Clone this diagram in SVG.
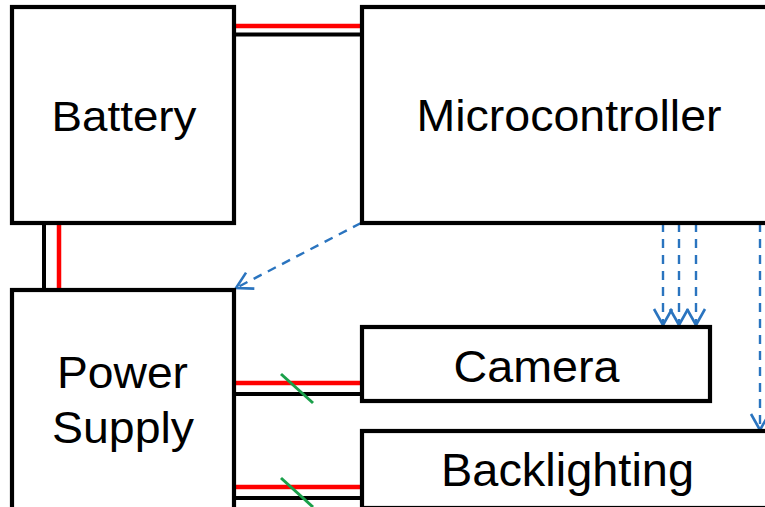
<svg xmlns="http://www.w3.org/2000/svg" width="765" height="507" viewBox="0 0 765 507">
<style>
.box{fill:#fff;stroke:#000;stroke-width:4.2}
.lbl{font-family:"Liberation Sans",Arial,sans-serif;fill:#000;text-anchor:middle}
.red{stroke:#ff0000;stroke-width:4.5;fill:none}
.blk{stroke:#000;stroke-width:4;fill:none}
.grn{stroke:#1aa04a;stroke-width:3;fill:none}
.sig{stroke:#2a74bf;stroke-width:2.4;fill:none;stroke-dasharray:9 7}
</style>
<defs>
<marker id="arr" markerUnits="userSpaceOnUse" markerWidth="30" markerHeight="30" refX="0" refY="0" viewBox="-20 -15 30 30" orient="auto" overflow="visible">
<path d="M-16,-9 L0,0 L-16,9" fill="none" stroke="#2a74bf" stroke-width="2.6"/>
</marker>
</defs>
<rect width="765" height="507" fill="#fff"/>
<g id="connectors">
<line class="red" x1="234" y1="26" x2="362" y2="26"/>
<line class="blk" x1="234" y1="34.5" x2="362" y2="34.5"/>
<line class="blk" x1="44" y1="223" x2="44" y2="290"/>
<line class="red" x1="59" y1="223" x2="59" y2="290"/>
<line class="red" x1="234" y1="383" x2="362" y2="383"/>
<line class="blk" x1="234" y1="394" x2="362" y2="394"/>
<line class="grn" x1="281" y1="374" x2="313" y2="403"/>
<line class="red" x1="234" y1="487" x2="362" y2="487"/>
<line class="blk" x1="234" y1="498" x2="362" y2="498"/>
<line class="grn" x1="281" y1="478" x2="313" y2="507"/>
<line class="sig" x1="361" y1="223" x2="236" y2="288" marker-end="url(#arr)"/>
<line class="sig" x1="663" y1="223" x2="663" y2="325" marker-end="url(#arr)"/>
<line class="sig" x1="679" y1="223" x2="679" y2="325" marker-end="url(#arr)"/>
<line class="sig" x1="696" y1="223" x2="696" y2="325" marker-end="url(#arr)"/>
<line class="sig" x1="760" y1="223" x2="760" y2="430" marker-end="url(#arr)"/>
</g>
<g id="battery">
<rect class="box" x="12" y="7" width="222" height="216"/>
<text class="lbl" x="124" y="131" font-size="43" textLength="145" lengthAdjust="spacingAndGlyphs">Battery</text>
</g>
<g id="microcontroller">
<rect class="box" x="362" y="7" width="450" height="216"/>
<text class="lbl" x="569" y="131" font-size="44" textLength="305" lengthAdjust="spacingAndGlyphs">Microcontroller</text>
</g>
<g id="power-supply">
<rect class="box" x="12" y="290" width="222" height="240"/>
<text class="lbl" x="122.5" y="388" font-size="45" textLength="131" lengthAdjust="spacingAndGlyphs">Power</text>
<text class="lbl" x="123" y="443" font-size="45" textLength="142" lengthAdjust="spacingAndGlyphs">Supply</text>
</g>
<g id="camera">
<rect class="box" x="362" y="327" width="348" height="74"/>
<text class="lbl" x="536.5" y="382" font-size="45" textLength="166" lengthAdjust="spacingAndGlyphs">Camera</text>
</g>
<g id="backlighting">
<rect class="box" x="362" y="431" width="450" height="77"/>
<text class="lbl" x="567.5" y="486" font-size="46" textLength="253" lengthAdjust="spacingAndGlyphs">Backlighting</text>
</g>
</svg>
